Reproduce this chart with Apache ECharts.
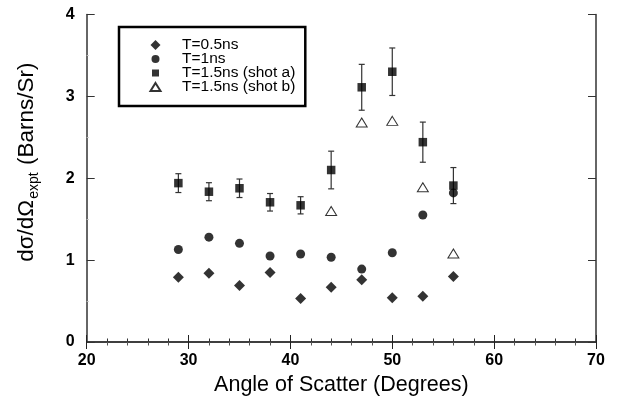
<!DOCTYPE html>
<html>
<head>
<meta charset="utf-8">
<script src="https://cdn.jsdelivr.net/npm/echarts@6/dist/echarts.min.js"></script>
<style>html,body{margin:0;padding:0;background:#fff}#c{width:623px;height:405px}</style>
</head>
<body>
<div id="c"></div>
<script>
const angles = [29, 32, 35, 38, 41, 44, 47, 50, 53, 56];
const t05 = [0.79, 0.84, 0.69, 0.85, 0.53, 0.67, 0.76, 0.54, 0.56, 0.80];
const t1 = [1.13, 1.28, 1.205, 1.05, 1.075, 1.035, 0.89, 1.09, 1.55, 1.82];
const t15a = [1.94, 1.835, 1.877, 1.706, 1.669, 2.10, 3.11, 3.30, 2.44, 1.91];
const t15aErr = [0.115, 0.11, 0.113, 0.107, 0.105, 0.23, 0.28, 0.29, 0.245, 0.22];
const anglesB = [44, 47, 50, 53, 56];
const t15b = [1.60, 2.68, 2.70, 1.89, 1.08];
const xTicks = [20, 30, 40, 50, 60, 70];
const yTicks = [0, 1, 2, 3, 4];
const seriesNames = ['T=0.5ns', 'T=1ns', 'T=1.5ns (shot a)', 'T=1.5ns (shot b)'];

const font = '"Liberation Sans", Arial, Helvetica, sans-serif';
const pair = (xs, ys) => xs.map((x, i) => [x, ys[i]]);
const errData = angles.map((x, i) => [x, t15a[i], t15aErr[i]]);

// legend icons padded inside an 11x11 box so their sizes differ like the reference
const legendIcons = [
  'path://M0 0M11 11M5.5 0.5L10.5 5.5L5.5 10.5L0.5 5.5Z',
  'path://M0 0M11 11M1.5 5.5A4 4 0 1 1 9.5 5.5A4 4 0 1 1 1.5 5.5Z',
  'path://M0 0M11 11M2 2L9 2L9 9L2 9Z',
  'path://M0 0M11 11M5.5 1.5L10.5 9.5L0.5 9.5Z'
];

const axisLine = { show: true, lineStyle: { color: '#333', width: 1.5 } };
const chart = echarts.init(document.getElementById('c'));
chart.setOption({
  animation: false,
  backgroundColor: '#fff',
  grid: { left: 86.7, right: 27, top: 14.4, bottom: 63 },
  xAxis: [{
    type: 'value', min: xTicks[0], max: xTicks[xTicks.length - 1], interval: 10,
    axisLine: axisLine,
    axisTick: { show: true, inside: true, length: 7, lineStyle: { color: '#222', width: 1 } },
    minorTick: { show: true, splitNumber: 5, length: 3.5, lineStyle: { color: '#333', width: 1 } },
    splitLine: { show: false },
    axisLabel: { margin: 11, fontFamily: font, fontSize: 16, color: '#000', fontWeight: 'bold' },
    name: 'Angle of Scatter (Degrees)', nameLocation: 'middle', nameGap: 30,
    nameTextStyle: { fontFamily: font, fontSize: 21.5, color: '#000' }
  }, {
    type: 'value', position: 'top', min: xTicks[0], max: xTicks[xTicks.length - 1], interval: 10,
    axisLine: axisLine,
    axisTick: { show: true, inside: true, length: 7, lineStyle: { color: '#222', width: 1 } },
    minorTick: { show: true, splitNumber: 5, length: 3.5, lineStyle: { color: '#555', width: 1 } },
    splitLine: { show: false }, axisLabel: { show: false }
  }],
  yAxis: [{
    type: 'value', min: yTicks[0], max: yTicks[yTicks.length - 1], interval: 1,
    axisLine: axisLine,
    axisTick: { show: true, inside: true, length: 8, lineStyle: { color: '#333', width: 1 } },
    minorTick: { show: true, splitNumber: 2, length: 2, lineStyle: { color: '#bbb', width: 1 } },
    splitLine: { show: false },
    axisLabel: { margin: 12, fontFamily: font, fontSize: 16, color: '#000', fontWeight: 'bold' },
    name: '{a|dσ/dΩ}{s|expt}{a| (Barns/Sr)}', nameLocation: 'middle', nameGap: 46,
    nameTextStyle: {
      fontFamily: font, fontSize: 22, color: '#000', padding: [0, 0, 0, 32],
      rich: {
        a: { fontFamily: font, fontSize: 22.5, color: '#000' },
        s: { fontFamily: font, fontSize: 14, color: '#000', padding: [14, 1, 0, 1] }
      }
    }
  }, {
    type: 'value', position: 'right', min: yTicks[0], max: yTicks[yTicks.length - 1], interval: 1,
    axisLine: axisLine,
    axisTick: { show: true, inside: true, length: 8, lineStyle: { color: '#333', width: 1 } },
    splitLine: { show: false }, axisLabel: { show: false }
  }],
  legend: {
    orient: 'vertical', left: 119, top: 27,
    padding: [10, 10, 11, 30],
    borderColor: '#000', borderWidth: 2.5, backgroundColor: '#fff',
    itemWidth: 11, itemHeight: 11, itemGap: -2,
    textStyle: { fontFamily: font, fontSize: 15.5, color: '#000', padding: [0, 0, 0, 16] },
    data: seriesNames.map((n, i) => ({ name: n, icon: legendIcons[i] }))
  },
  series: [
    {
      type: 'custom', name: 'err', data: errData, z: 1, silent: true,
      renderItem: function (params, api) {
        const x = api.value(0), y = api.value(1), e = api.value(2);
        const top = api.coord([x, y + e]);
        const bot = api.coord([x, y - e]);
        const w = 3;
        const st = { stroke: '#333', lineWidth: 1.2 };
        return { type: 'group', children: [
          { type: 'line', shape: { x1: top[0], y1: top[1], x2: bot[0], y2: bot[1] }, style: st },
          { type: 'line', shape: { x1: top[0] - w, y1: top[1], x2: top[0] + w, y2: top[1] }, style: st },
          { type: 'line', shape: { x1: bot[0] - w, y1: bot[1], x2: bot[0] + w, y2: bot[1] }, style: st }
        ] };
      }
    },
    { type: 'scatter', name: seriesNames[0], data: pair(angles, t05), symbol: 'diamond', symbolSize: 11, itemStyle: { color: '#000' }, z: 3 },
    { type: 'scatter', name: seriesNames[1], data: pair(angles, t1), symbol: 'circle', symbolSize: 9, itemStyle: { color: '#000' }, z: 3 },
    { type: 'scatter', name: seriesNames[2], data: pair(angles, t15a), symbol: 'rect', symbolSize: 8.5, itemStyle: { color: '#000' }, z: 3 },
    { type: 'scatter', name: seriesNames[3], data: pair(anglesB, t15b), symbol: 'triangle', symbolSize: [11, 9], itemStyle: { color: '#fff', borderColor: '#000', borderWidth: 1 }, z: 3 }
  ]
});
</script>
</body>
</html>
